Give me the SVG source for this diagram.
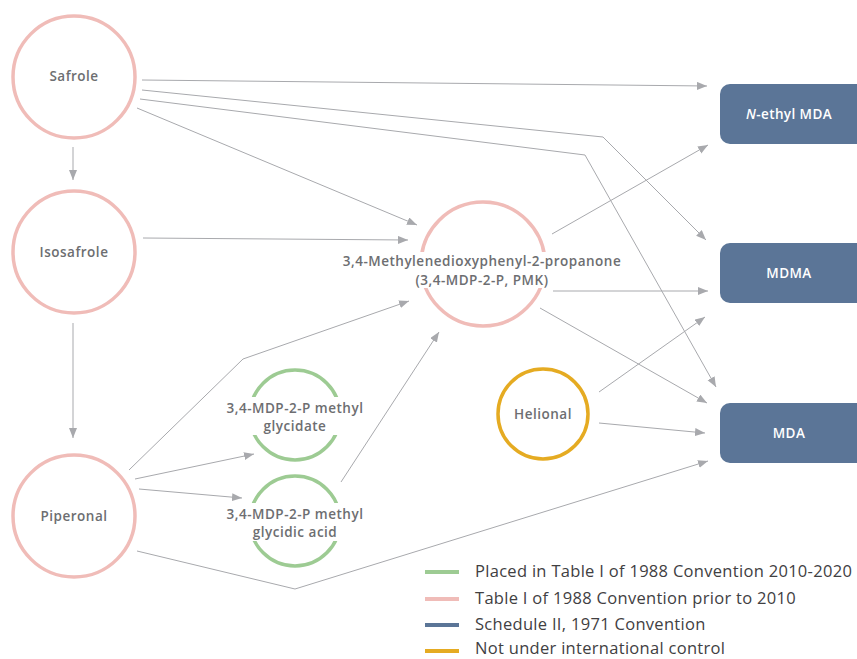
<svg xmlns="http://www.w3.org/2000/svg" width="857" height="659" viewBox="0 0 857 659">
<defs>
<style>
.pink{fill:none;stroke:#f0bcb8;stroke-width:3.5}
.green{fill:none;stroke:#9dcb93;stroke-width:3.5}
.yellow{fill:none;stroke:#e5ab22;stroke-width:3.5}
.box{fill:#5b7597}
.lbl{font-family:"Open Sans","Liberation Sans",Arial,sans-serif;font-size:13.5px;font-weight:600;fill:#6d6e71;text-anchor:middle;letter-spacing:0.5px}
.wlbl{font-family:"Open Sans","Liberation Sans",Arial,sans-serif;font-size:13.5px;font-weight:600;fill:#ffffff;text-anchor:middle;letter-spacing:0.4px}
.leg{font-family:"Open Sans","Liberation Sans",Arial,sans-serif;font-size:16.5px;fill:#414042;letter-spacing:0.3px}
.conn path{fill:none;stroke:#a8a9ad;stroke-width:1}
</style>
<marker id="ah" markerUnits="userSpaceOnUse" markerWidth="11" markerHeight="9" refX="10" refY="4" orient="auto">
<path d="M0,0 L10,4 L0,8 z" fill="#a8a9ad"/>
</marker>
</defs>
<rect width="857" height="659" fill="#ffffff"/>
<g id="connectors" class="conn">
<path d="M142,80 L707,86" marker-end="url(#ah)"/>
<path d="M142,90 L603,137 L706,240" marker-end="url(#ah)"/>
<path d="M140,99 L585,155 L716,387" marker-end="url(#ah)"/>
<path d="M137,108 L417,225" marker-end="url(#ah)"/>
<path d="M73,147 L73,180" marker-end="url(#ah)"/>
<path d="M143,238 L408,240" marker-end="url(#ah)"/>
<path d="M73,323 L73,438" marker-end="url(#ah)"/>
<path d="M129,470 L243,359 L409,301" marker-end="url(#ah)"/>
<path d="M135,479 L254,454" marker-end="url(#ah)"/>
<path d="M139,489 L242,498" marker-end="url(#ah)"/>
<path d="M137,551 L295,589 L708,461" marker-end="url(#ah)"/>
<path d="M341,482 L439,332" marker-end="url(#ah)"/>
<path d="M552,234 L708,145" marker-end="url(#ah)"/>
<path d="M553,291 L708,291" marker-end="url(#ah)"/>
<path d="M540,308 L707,403" marker-end="url(#ah)"/>
<path d="M599,392 L705,317" marker-end="url(#ah)"/>
<path d="M599,423 L705,433" marker-end="url(#ah)"/>
</g>
<g id="safrole">
<circle class="pink" cx="74" cy="77" r="61"/>
<text class="lbl" x="74" y="81">Safrole</text>
</g>
<g id="isosafrole">
<circle class="pink" cx="74" cy="252" r="61"/>
<text class="lbl" x="74" y="257">Isosafrole</text>
</g>
<g id="piperonal">
<circle class="pink" cx="74" cy="516" r="61"/>
<text class="lbl" x="74" y="521">Piperonal</text>
</g>
<g id="pmk">
<circle class="pink" cx="483" cy="264" r="62"/>
<rect x="415" y="252" width="136" height="36" fill="#ffffff"/>
<text class="lbl" x="482" y="266">3,4-Methylenedioxyphenyl-2-propanone</text>
<text class="lbl" x="482" y="285">(3,4-MDP-2-P, PMK)</text>
</g>
<g id="glycidate">
<circle class="green" cx="295" cy="415" r="45"/>
<rect x="245" y="397" width="100" height="38" fill="#ffffff"/>
<text class="lbl" x="295" y="413">3,4-MDP-2-P methyl</text>
<text class="lbl" x="295" y="431">glycidate</text>
</g>
<g id="glycidic-acid">
<circle class="green" cx="295" cy="521" r="45"/>
<rect x="245" y="503" width="100" height="38" fill="#ffffff"/>
<text class="lbl" x="295" y="519">3,4-MDP-2-P methyl</text>
<text class="lbl" x="295" y="537">glycidic acid</text>
</g>
<g id="helional">
<circle class="yellow" cx="543" cy="414" r="45"/>
<text class="lbl" x="543" y="419">Helional</text>
</g>
<g id="n-ethyl-mda">
<rect class="box" x="720" y="84" width="146" height="60" rx="10"/>
<text class="wlbl" x="789" y="119"><tspan font-style="italic">N</tspan>-ethyl MDA</text>
</g>
<g id="mdma">
<rect class="box" x="720" y="243" width="146" height="60" rx="10"/>
<text class="wlbl" x="789" y="278">MDMA</text>
</g>
<g id="mda">
<rect class="box" x="720" y="403" width="146" height="60" rx="10"/>
<text class="wlbl" x="789" y="438">MDA</text>
</g>
<g id="legend">
<line x1="425" y1="572" x2="459" y2="572" stroke="#9dcb93" stroke-width="4"/>
<text class="leg" x="475" y="577">Placed in Table I of 1988 Convention 2010-2020</text>
<line x1="425" y1="599" x2="459" y2="599" stroke="#f0bcb8" stroke-width="4"/>
<text class="leg" x="475" y="604">Table I of 1988 Convention prior to 2010</text>
<line x1="425" y1="625" x2="459" y2="625" stroke="#5b7597" stroke-width="4"/>
<text class="leg" x="475" y="630">Schedule II, 1971 Convention</text>
<line x1="425" y1="651" x2="459" y2="651" stroke="#e5ab22" stroke-width="4"/>
<text class="leg" x="475" y="654">Not under international control</text>
</g>
</svg>
